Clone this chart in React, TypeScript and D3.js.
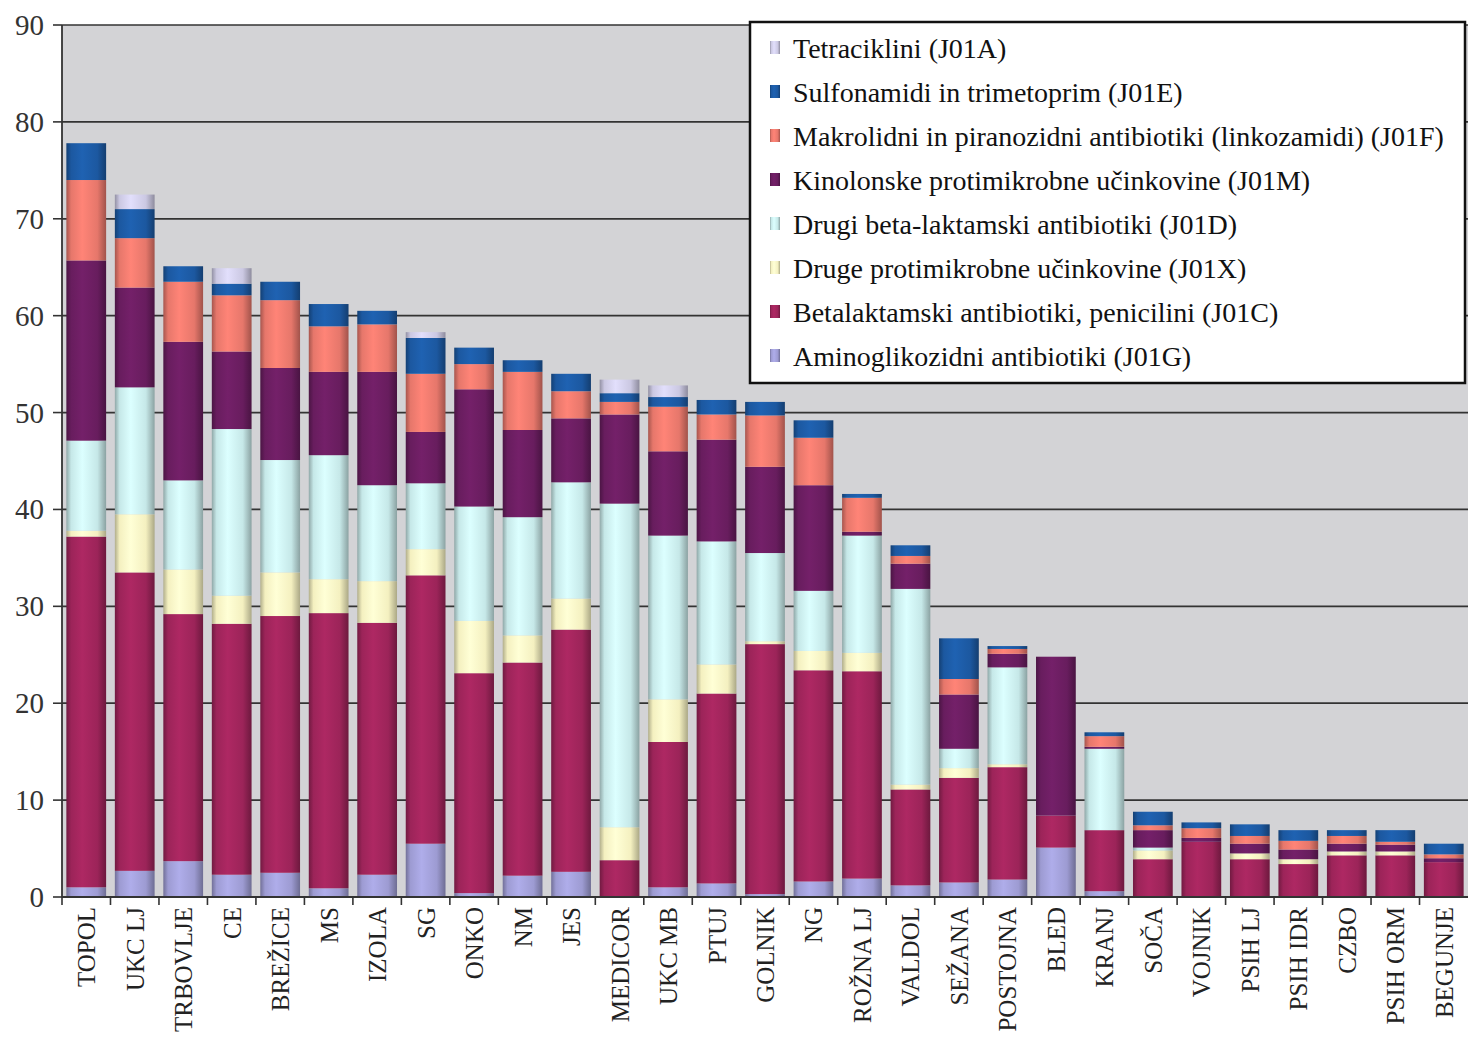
import React from "react";
import * as d3 from "d3";

const categories = ["TOPOL","UKC LJ","TRBOVLJE","CE","BREŽICE","MS","IZOLA","SG","ONKO","NM","JES","MEDICOR","UKC MB","PTUJ","GOLNIK","NG","ROŽNA LJ","VALDOL","SEŽANA","POSTOJNA","BLED","KRANJ","SOČA","VOJNIK","PSIH LJ","PSIH IDR","CZBO","PSIH ORM","BEGUNJE"];

// stacking order bottom -> top
const J01G = [1.0,2.7,3.7,2.3,2.5,0.9,2.3,5.5,0.4,2.2,2.6,0,1.0,1.4,0.3,1.6,1.9,1.2,1.5,1.8,5.1,0.6,0,0,0,0,0,0,0];
const J01C = [36.2,30.8,25.5,25.9,26.5,28.4,26.0,27.7,22.7,22.0,25.0,3.8,15.0,19.6,25.8,21.8,21.4,9.9,10.8,11.6,3.3,6.3,3.9,5.7,3.9,3.4,4.3,4.3,3.6];
const J01X = [0.6,6.0,4.6,2.9,4.5,3.5,4.3,2.7,5.4,2.8,3.2,3.4,4.4,3.0,0.3,2.0,1.9,0.5,1.0,0.3,0,0,0.9,0,0.6,0.5,0.4,0.4,0];
const J01D = [9.3,13.1,9.2,17.2,11.6,12.8,9.9,6.8,11.8,12.2,12.0,33.4,16.9,12.7,9.1,6.2,12.1,20.2,2.0,10.0,0,8.4,0.3,0,0,0,0,0,0];
const J01M = [18.6,10.3,14.3,8.0,9.5,8.6,11.7,5.3,12.1,9.0,6.6,9.2,8.7,10.5,8.9,10.9,0.4,2.6,5.6,1.4,16.4,0.2,1.8,0.4,1.0,1.0,0.8,0.7,0.4];
const J01F = [8.3,5.1,6.2,5.8,7.0,4.7,4.9,6.0,2.6,6.0,2.8,1.3,4.6,2.6,5.3,4.9,3.5,0.8,1.6,0.5,0,1.1,0.5,1.0,0.8,0.9,0.8,0.3,0.4];
const J01E = [3.8,3.0,1.6,1.2,1.9,2.3,1.4,3.7,1.7,1.2,1.8,0.9,1.0,1.5,1.4,1.8,0.4,1.1,4.2,0.3,0,0.4,1.4,0.6,1.2,1.1,0.6,1.2,1.1];
const J01A = [0,1.5,0,1.6,0,0,0,0.6,0,0,0,1.4,1.2,0,0,0,0,0,0,0,0,0,0,0,0,0,0,0,0];

const seriesKeys = ["J01G","J01C","J01X","J01D","J01M","J01F","J01E","J01A"];
const seriesValues: Record<string, number[]> = { J01G, J01C, J01X, J01D, J01M, J01F, J01E, J01A };
const seriesColors: Record<string, string> = {
  J01G: "#9d9bd2",
  J01C: "#9c2459",
  J01X: "#f4f0c0",
  J01D: "#c6e8e8",
  J01M: "#681d5e",
  J01F: "#e6776b",
  J01E: "#1c58a0",
  J01A: "#cbc8e2",
};
// legend order top -> bottom
const legendKeys = ["J01A","J01E","J01F","J01M","J01D","J01X","J01C","J01G"];
const legendLabels: Record<string, string> = {
  J01A: "Tetraciklini (J01A)",
  J01E: "Sulfonamidi in trimetoprim (J01E)",
  J01F: "Makrolidni in piranozidni antibiotiki (linkozamidi) (J01F)",
  J01M: "Kinolonske protimikrobne učinkovine (J01M)",
  J01D: "Drugi beta-laktamski antibiotiki (J01D)",
  J01X: "Druge protimikrobne učinkovine (J01X)",
  J01C: "Betalaktamski antibiotiki, penicilini (J01C)",
  J01G: "Aminoglikozidni antibiotiki (J01G)",
};
const yTicks = [0,10,20,30,40,50,60,70,80,90];

const W = 1468, H = 1048;
const left = 62, right = 1468, top = 25, bottom = 897;
const FONT = "'Liberation Serif', 'DejaVu Serif', serif";

export default function App() {
  const x = d3.scaleBand<string>().domain(categories).range([left, right]).paddingInner(0.18).paddingOuter(0.09);
  const y = d3.scaleLinear().domain([0, 90]).range([bottom, top]);

  const rows = categories.map((c, i) => {
    const r: any = { cat: c };
    seriesKeys.forEach((k) => (r[k] = seriesValues[k][i]));
    return r;
  });
  const stacked = d3.stack<any>().keys(seriesKeys)(rows);
  const step = x.step();

  return (
    <svg width={W} height={H} style={{ position: "absolute", left: 0, top: 0, background: "#fff" }} fontFamily={FONT}>
      <defs>
        {seriesKeys.map((k) => {
          const c = d3.color(seriesColors[k])!;
          return (
            <linearGradient key={k} id={`g-${k}`} x1="0" x2="1" y1="0" y2="0">
              <stop offset="0" stopColor={c.darker(0.9).formatHex()} />
              <stop offset="0.12" stopColor={c.formatHex()} />
              <stop offset="0.4" stopColor={c.brighter(0.3).formatHex()} />
              <stop offset="0.78" stopColor={c.formatHex()} />
              <stop offset="1" stopColor={c.darker(1.0).formatHex()} />
            </linearGradient>
          );
        })}
      </defs>
      <rect x={left} y={top} width={right - left} height={bottom - top} fill="#d3d3d6" />
      {yTicks.filter((t) => t > 0).map((t) => (
        <line key={t} x1={left} x2={right} y1={y(t)} y2={y(t)} stroke="#333" strokeWidth={1.7} />
      ))}
      {stacked.map((s) => (
        <g key={s.key} fill={`url(#g-${s.key})`}>
          {s.map((d, i) =>
            d[1] - d[0] > 0 ? (
              <rect key={i} x={x(categories[i])!} width={x.bandwidth()} y={y(d[1])} height={y(d[0]) - y(d[1])} />
            ) : null
          )}
        </g>
      ))}
      {/* axes */}
      <line x1={left} x2={left} y1={top} y2={bottom} stroke="#333" strokeWidth={1.8} />
      <line x1={left} x2={right} y1={bottom} y2={bottom} stroke="#333" strokeWidth={1.8} />
      {yTicks.map((t) => (
        <g key={t}>
          <line x1={left - 9} x2={left} y1={y(t)} y2={y(t)} stroke="#333" strokeWidth={1.6} />
          <text x={44} y={y(t)} textAnchor="end" dominantBaseline="central" fontSize={29} fill="#333">{t}</text>
        </g>
      ))}
      {categories.map((c, i) => (
        <line key={"t" + i} x1={x(c)! - step * 0.09} x2={x(c)! - step * 0.09} y1={bottom} y2={bottom + 8} stroke="#333" strokeWidth={1.6} />
      ))}
      {categories.map((c) => {
        const cx = x(c)! + x.bandwidth() / 2;
        return (
          <text key={c} transform={`translate(${cx + 9},${907}) rotate(-90)`} textAnchor="end" fontSize={25} fill="#222">{c}</text>
        );
      })}
      {/* legend */}
      <rect x={750} y={22} width={715} height={361} fill="#fff" stroke="#111" strokeWidth={2.5} />
      {legendKeys.map((k, i) => {
        const cy = 48 + i * 44;
        return (
          <g key={k}>
            <rect x={770} y={cy - 7} width={10} height={13} fill={`url(#g-${k})`} />
            <text x={793} y={cy} dominantBaseline="central" fontSize={28} fill="#111">{legendLabels[k]}</text>
          </g>
        );
      })}
    </svg>
  );
}
